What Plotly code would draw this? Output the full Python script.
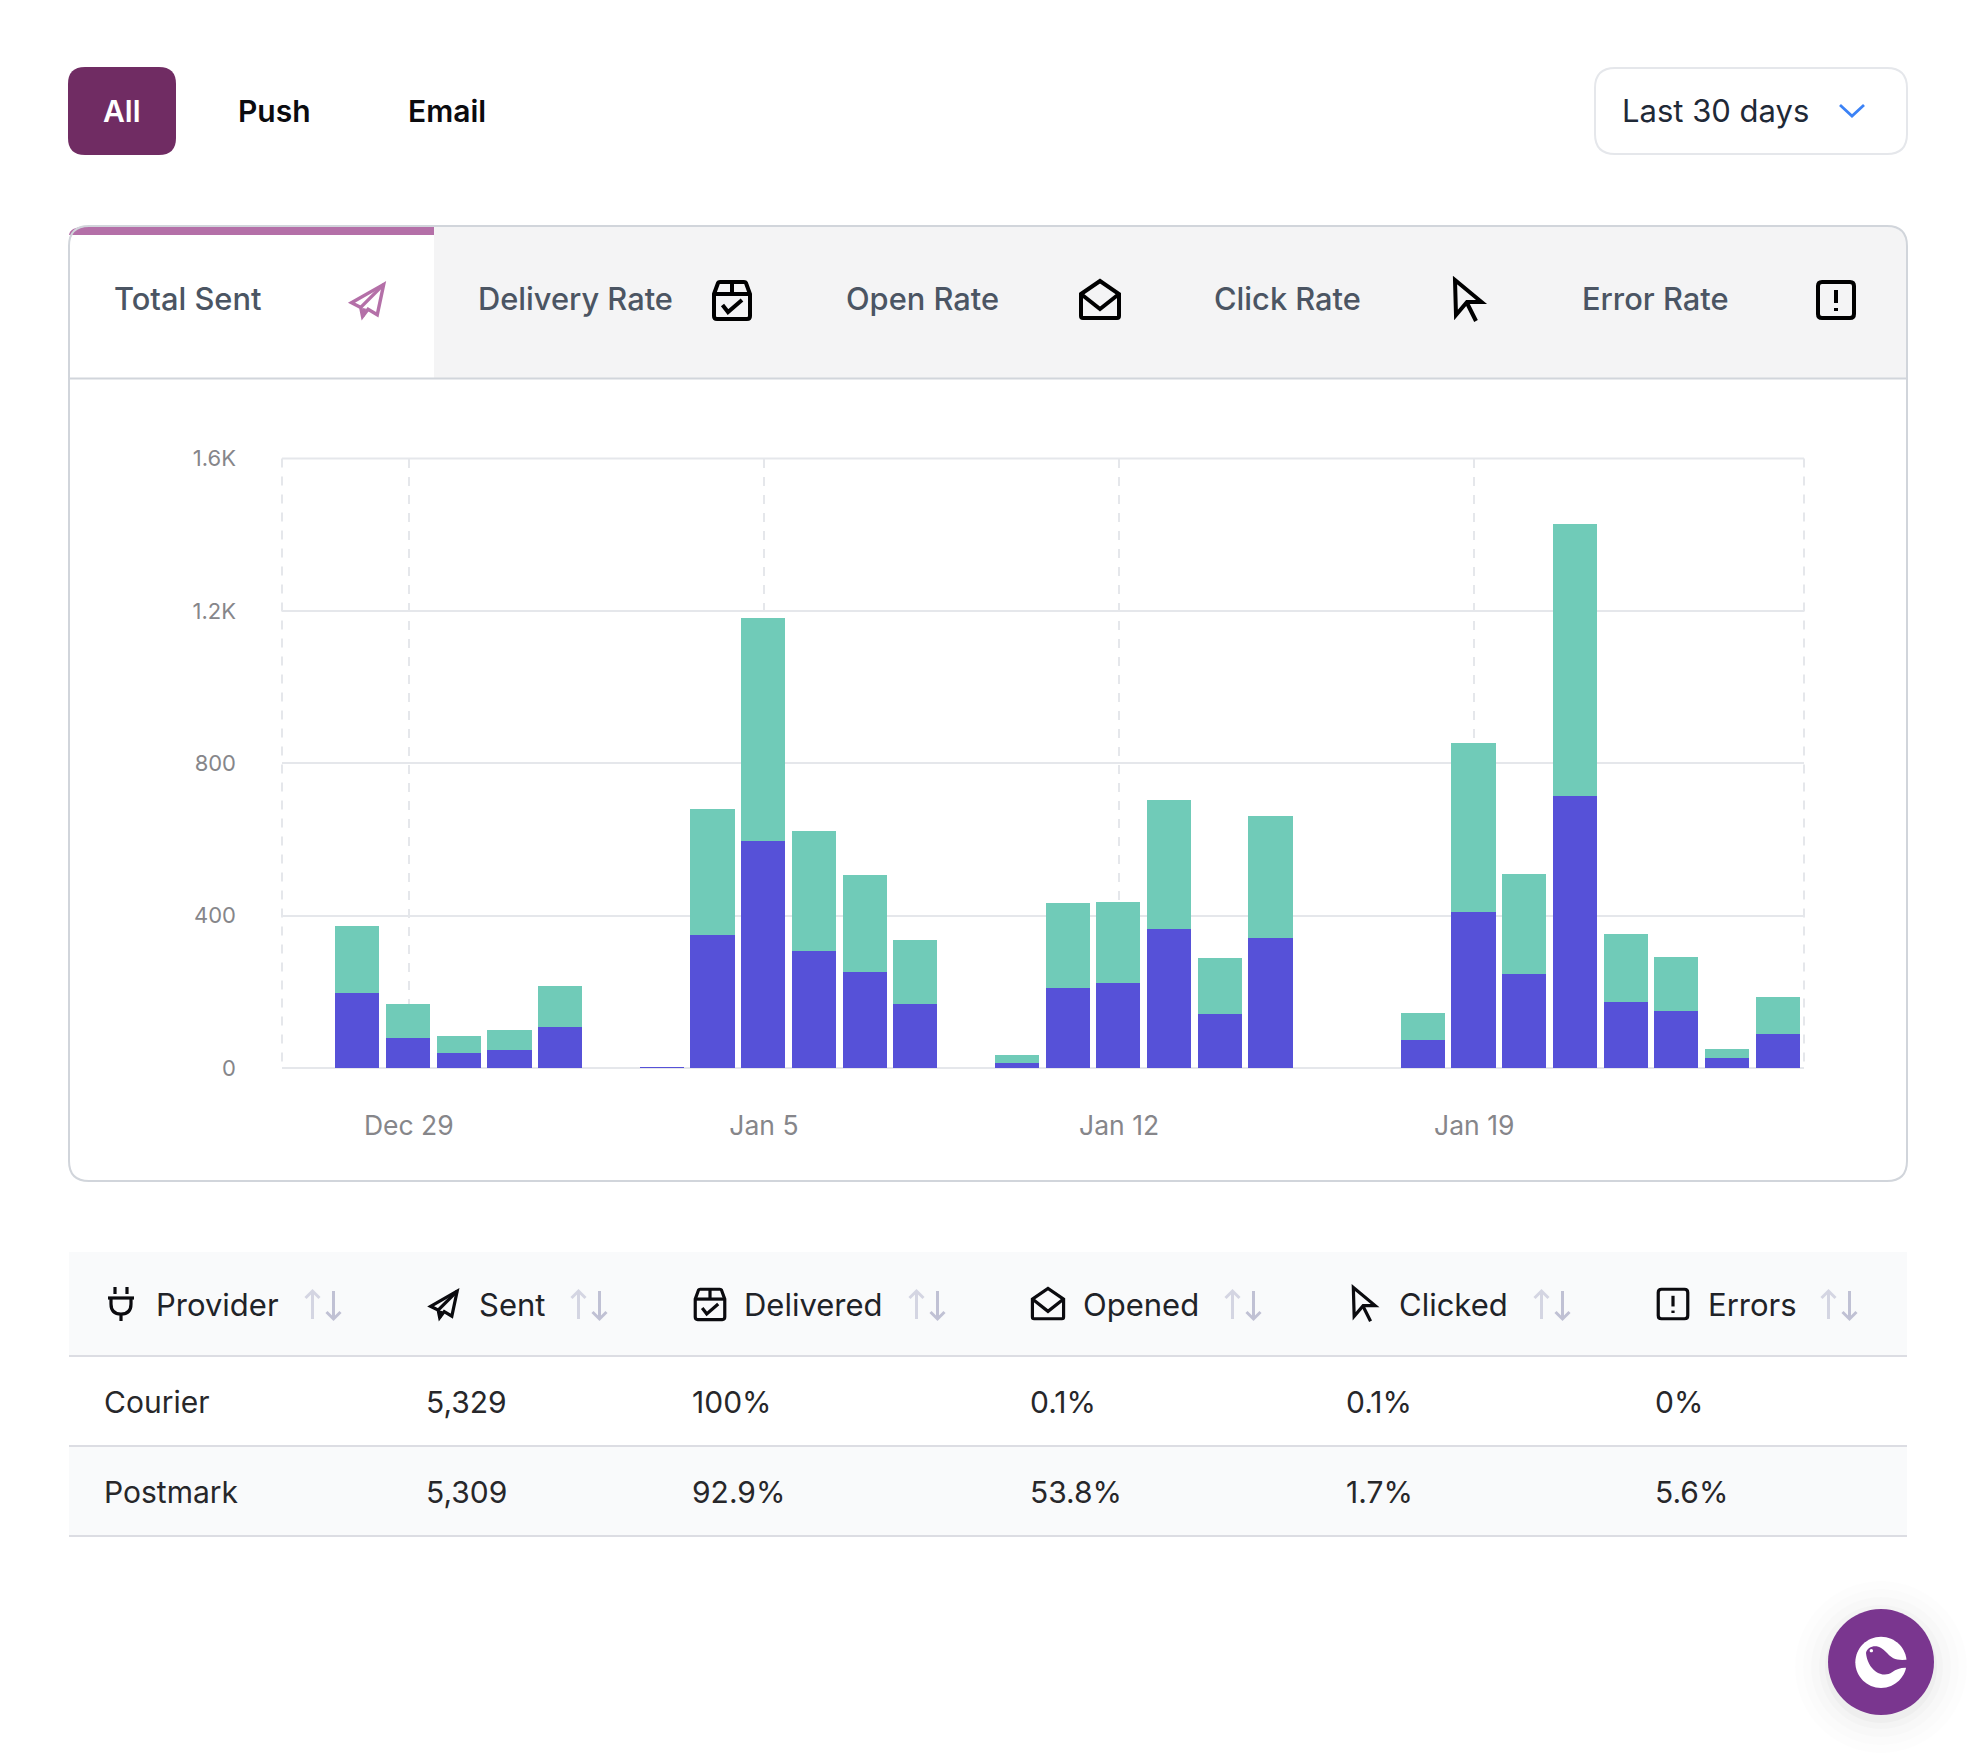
import re
import plotly.graph_objects as go

W, H = 1978, 1760

# ---------- data ----------
DAYS = ["Dec 27", "Dec 28", "Dec 29", "Dec 30", "Dec 31", "Jan 1", "Jan 2", "Jan 3", "Jan 4", "Jan 5",
        "Jan 6", "Jan 7", "Jan 8", "Jan 9", "Jan 10", "Jan 11", "Jan 12", "Jan 13", "Jan 14", "Jan 15",
        "Jan 16", "Jan 17", "Jan 18", "Jan 19", "Jan 20", "Jan 21", "Jan 22", "Jan 23", "Jan 24", "Jan 25"]
BLUE = [0, 196, 80, 40, 47, 107, 0, 3, 348, 597,
        306, 251, 167, 0, 14, 211, 222, 364, 143, 342,
        0, 0, 73, 410, 248, 715, 172, 149, 25, 88]
TEAL = [0, 177, 88, 43, 52, 107, 0, 0, 332, 583,
        315, 256, 169, 0, 19, 221, 215, 340, 146, 320,
        0, 0, 71, 442, 260, 712, 181, 142, 25, 99]
X_TICKS = ["Dec 29", "Jan 5", "Jan 12", "Jan 19"]
Y_TICKS = [0, 400, 800, 1200, 1600]
Y_LABELS = ["0", "400", "800", "1.2K", "1.6K"]

FILTERS = ["All", "Push", "Email"]
RANGE_LABEL = "Last 30 days"
TABS = ["Total Sent", "Delivery Rate", "Open Rate", "Click Rate", "Error Rate"]
HEADERS = ["Provider", "Sent", "Delivered", "Opened", "Clicked", "Errors"]
ROW_COURIER = ["Courier", "5,329", "100%", "0.1%", "0.1%", "0%"]
ROW_POSTMARK = ["Postmark", "5,309", "92.9%", "53.8%", "1.7%", "5.6%"]

# ---------- helpers for the page around the chart (pixel -> paper) ----------
FONT = "Inter"
shapes, notes = [], []
fx = lambda x: x / W
fy = lambda y: 1 - y / H


def path(d, ox=0.0, oy=0.0, s=1.0, **kw):
    out = []
    for cmd, body in re.findall(r"([MLQCZ])([^MLQCZ]*)", d):
        nums = [float(n) for n in re.findall(r"-?\d+\.?\d*", body)]
        pts = [f"{fx(ox + s * nums[i]):.6f},{fy(oy + s * nums[i + 1]):.6f}" for i in range(0, len(nums), 2)]
        out.append(cmd + " ".join(pts))
    shapes.append(dict(type="path", xref="paper", yref="paper", path=" ".join(out), **kw))


def rrect(x0, y0, x1, y1, r):
    return (f"M{x0 + r},{y0} L{x1 - r},{y0} Q{x1},{y0} {x1},{y0 + r} L{x1},{y1 - r} Q{x1},{y1} {x1 - r},{y1} "
            f"L{x0 + r},{y1} Q{x0},{y1} {x0},{y1 - r} L{x0},{y0 + r} Q{x0},{y0} {x0 + r},{y0} Z")


def circle(cx, cy, r):
    k = 0.5523 * r
    return (f"M{cx - r},{cy} C{cx - r},{cy - k} {cx - k},{cy - r} {cx},{cy - r} "
            f"C{cx + k},{cy - r} {cx + r},{cy - k} {cx + r},{cy} "
            f"C{cx + r},{cy + k} {cx + k},{cy + r} {cx},{cy + r} "
            f"C{cx - k},{cy + r} {cx - r},{cy + k} {cx - r},{cy} Z")


def box(d, fill="rgba(0,0,0,0)", line=None, lw=0, layer="below", dash="solid"):
    path(d, fillcolor=fill, line=dict(color=line or "rgba(0,0,0,0)", width=lw, dash=dash), layer=layer)


def text(x, y, s, size, color, weight=400, anchor="left"):
    notes.append(dict(xref="paper", yref="paper", x=fx(x), y=fy(y), text=s, showarrow=False,
                      xanchor=anchor, yanchor="middle", borderpad=0,
                      font=dict(family=FONT, size=size, color=color, weight=weight)))


# Icons are drawn around their own centre, in pixels at tab size.
ICONS = {
    "plane": ["M16,-17 L-19,3 L-9,8 L-7,18 L-1,10 L9,16 Z", "M16,-17 L-9,8", "M-7,18 L-5,9"],
    "box": ["M-18,-6 L-14,-17 Q-13.5,-18 -12,-18 L12,-18 Q13.5,-18 14,-17 L18,-6 L18,16 Q18,19 15,19 L-15,19 Q-18,19 -18,16 Z",
            "M-18,-6 L18,-6", "M0,-18 L0,-6", "M-9.5,5 L-4,12 L10,0"],
    "mail": ["M-19,-6 L0,-19 L19,-6 L19,16 Q19,18 17,18 L-17,18 Q-19,18 -19,16 Z", "M-19,-6 L0,9 L19,-6"],
    "cursor": ["M-13,-20 L13.5,2 L-1,2 L-12,15 Z", "M-1,3 L8,21"],
    "error": ["M-14,-18 L14,-18 Q18,-18 18,-14 L18,14 Q18,18 14,18 L-14,18 Q-18,18 -18,14 L-18,-14 Q-18,-18 -14,-18 Z",
              "M0,-10 L0,3", "M0,8 L0,11"],
    "plug": ["M-6,-17 L-6,-10", "M6,-17 L6,-10", "M-13,-6 L13,-6", "M-10,-6 L-10,0 Q-10,10 0,10 Q10,10 10,0 L10,-6", "M0,10 L0,17"],
}


def icon(name, cx, cy, s=1.0, color="#000000", lw=4.0):
    for d in ICONS[name]:
        path(d, cx, cy, s, line=dict(color=color, width=lw), fillcolor="rgba(0,0,0,0)", layer="above")


def sort_arrows(cx, cy):
    for dx, d, col in ((-10.5, "M0,-14 L0,14 M-7,-7 L0,-14 L7,-7", "#d4d5e2"), (10.5, "M0,-14 L0,14 M-7,7 L0,14 L7,7", "#c0c1d4")):
        path(d, cx + dx, cy, 1, line=dict(color=col, width=3), fillcolor="rgba(0,0,0,0)", layer="above")


# ---------- top filter row ----------
box(rrect(68, 67, 176, 155, 17), fill="#702c63")
text(122, 111, FILTERS[0], 30, "#ffffff", 600, "center")
text(237, 111, FILTERS[1], 30, "#0b0b0f", 600)
text(407, 111, FILTERS[2], 30, "#0b0b0f", 600)
box(rrect(1595, 68, 1907, 154, 20), fill="#ffffff", line="#e5e7eb", lw=2)
text(1621, 110, RANGE_LABEL, 31, "#1f2937")
path("M1840,105 L1852,116 L1864,105", line=dict(color="#3b82f6", width=2.8), fillcolor="rgba(0,0,0,0)", layer="above")

# ---------- card with tabs ----------
box("M434,227 L1887,227 Q1907,227 1907,247 L1907,378 L434,378 Z", fill="#f4f4f5")
box("M69,235 Q70,227 84,227 L434,227 L434,235 Z", fill="#b470a8")
box(rrect(69, 226, 1907, 1181, 20), line="#d1d5db", lw=2)
box("M69,378.5 L1907,378.5", line="#d1d5db", lw=2)
TAB_TEXT_X = [113, 477, 845, 1213, 1581]
TAB_ICONS = [("plane", 369), ("box", 732), ("mail", 1100), ("cursor", 1468), ("error", 1836)]
for i, label in enumerate(TABS):
    text(TAB_TEXT_X[i], 298, label, 30.8, "#4b5563", 500)
    icon(TAB_ICONS[i][0], TAB_ICONS[i][1], 300, 0.92 if i == 0 else 1.0, "#b470a8" if i == 0 else "#000000", 3.4 if i == 0 else 4.0)

# ---------- table ----------
box("M69,1252 L1907,1252 L1907,1356 L69,1356 Z", fill="#f9fafb")
box("M69,1446 L1907,1446 L1907,1536 L69,1536 Z", fill="#f9fafb")
for yy in (1356, 1446, 1536):
    box(f"M69,{yy} L1907,{yy}", line="#dcdde3", lw=2)
HEAD_TEXT_X = [155, 478, 743, 1082, 1398, 1707]
HEAD_ICONS = [("plug", 121), ("plane", 445), ("box", 710), ("mail", 1048), ("cursor", 1364), ("error", 1673)]
HEAD_SORT_X = [323, 589, 927, 1243, 1552, 1839]
CELL_X = [102.5, 425, 691, 1029, 1345, 1654]
for i, label in enumerate(HEADERS):
    text(HEAD_TEXT_X[i], 1304, label, 31, "#1f2328")
    nm, cx = HEAD_ICONS[i]
    icon(nm, cx, 1304, {"plug": 1.0, "plane": 0.76}.get(nm, 0.82), "#0b0b0f", 3.2)
    sort_arrows(HEAD_SORT_X[i], 1305)
    text(CELL_X[i], 1402, ROW_COURIER[i], 30, "#27272a")
    text(CELL_X[i], 1492, ROW_POSTMARK[i], 30, "#27272a")

# ---------- floating badge ----------
for r, a in ((86, .006), (78, .008), (70, .012), (62, .016), (56, .022)):
    path(circle(1881, 1667, r), fillcolor=f"rgba(0,0,0,{a})", line=dict(width=0), layer="above")
path(circle(1881, 1662, 53), fillcolor="#7a368f", line=dict(width=0), layer="above")
path(circle(213, 220, 77), 1810, 1589, 1 / 3, fillcolor="#ffffff", line=dict(width=0), layer="above")
path("M168,192 C170,178 186,170 200,172 C222,176 232,198 250,208 C262,214 280,214 300,211 L300,238 "
     "C280,234 262,238 246,250 C232,260 212,258 198,248 C180,236 170,214 168,192 Z",
     1810, 1589, 1 / 3, fillcolor="#7a368f", line=dict(width=0), layer="above")
path(circle(184, 185, 5), 1810, 1589, 1 / 3, fillcolor="#ffffff", line=dict(width=0), layer="above")

# ---------- plot frame: plotly leaves out grid lines on the axis ends ----------
PLOT_L, PLOT_R, PLOT_T, PLOT_B = 282, 1804, 458.5, 1068
for xe in (PLOT_L, PLOT_R):
    box(f"M{xe},{PLOT_T} L{xe},{PLOT_B}", line="#e5e7eb", lw=2, dash="dash")
for ye in (PLOT_T, PLOT_B):
    box(f"M{PLOT_L},{ye} L{PLOT_R},{ye}", line="#e5e7eb", lw=2)

# ---------- figure ----------
BAR_W, BAR_OFFSET = 0.87, -0.45
fig = go.Figure()
fig.add_bar(x=DAYS, y=BLUE, width=BAR_W, offset=BAR_OFFSET, marker=dict(color="#5651d8", line=dict(width=0)), name="Push")
fig.add_bar(x=DAYS, y=TEAL, width=BAR_W, offset=BAR_OFFSET, marker=dict(color="#70cbb8", line=dict(width=0)), name="Email")
fig.update_layout(
    template="none",
    width=W, height=H, autosize=False, barmode="stack", showlegend=False,
    margin=dict(l=0, r=0, t=0, b=0, pad=0), paper_bgcolor="#ffffff", plot_bgcolor="rgba(0,0,0,0)",
    font=dict(family=FONT), shapes=shapes, annotations=notes, hovermode=False,
    xaxis=dict(domain=[fx(PLOT_L), fx(PLOT_R)], type="category", categoryorder="array", categoryarray=DAYS,
               range=[-0.5, 29.5], tickmode="array", tickvals=X_TICKS, ticktext=X_TICKS, automargin=False,
               showgrid=True, gridcolor="#e5e7eb", gridwidth=2, griddash="dash",
               zeroline=False, showline=False, ticks="", ticklabelstandoff=39,
               tickfont=dict(family=FONT, size=26.5, color="#86868a")),
    yaxis=dict(domain=[fy(PLOT_B), fy(PLOT_T)], range=[0, 1600], tickmode="array", tickvals=Y_TICKS, ticktext=Y_LABELS,
               automargin=False, showgrid=True, gridcolor="#e5e7eb", gridwidth=2, zeroline=False, showline=False,
               ticks="", ticklabelstandoff=45, tickfont=dict(family=FONT, size=22, color="#86868a")),
)
fig.write_html("out.html", config={"displayModeBar": False},
               post_script="document.body.style.margin='0';document.documentElement.style.overflow='hidden';")
